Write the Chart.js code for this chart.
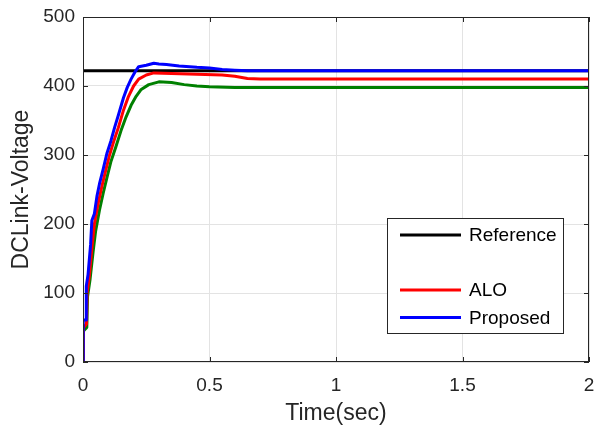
<!DOCTYPE html>
<html>
<head>
<meta charset="utf-8">
<script src="https://cdn.jsdelivr.net/npm/chart.js@4/dist/chart.umd.min.js"></script>
<style>
  html, body { margin: 0; padding: 0; background: #fff; }
  #wrap { width: 597px; height: 432px; position: relative; }
</style>
</head>
<body>
<div id="wrap"><canvas id="myChart"></canvas></div>
<script>
// values
const xTicks = [0, 0.5, 1, 1.5, 2];
const yTicks = [0, 100, 200, 300, 400, 500];

const seriesLabels = ['Reference', '', 'ALO', 'Proposed'];

const timeReference = [0, 2];
const voltReference = [422, 422];

const timeGreen = [0, 0.002, 0.015, 0.018, 0.028, 0.04, 0.05, 0.065, 0.08, 0.095, 0.11, 0.13, 0.15, 0.17, 0.19, 0.21, 0.23, 0.26, 0.3, 0.35, 0.4, 0.45, 0.5, 0.6, 2];
const voltGreen = [0, 45, 50, 95, 120, 160, 190, 220, 245, 268, 290, 312, 335, 355, 372, 385, 395, 402, 406, 405, 402, 400, 399, 398, 398];

const timeALO = [0, 0.002, 0.014, 0.016, 0.025, 0.035, 0.045, 0.06, 0.075, 0.09, 0.105, 0.12, 0.14, 0.16, 0.18, 0.2, 0.22, 0.25, 0.28, 0.35, 0.45, 0.55, 0.6, 0.65, 0.7, 2];
const voltALO = [0, 50, 55, 100, 125, 165, 200, 230, 255, 278, 300, 318, 340, 365, 385, 400, 410, 416, 419, 418, 417, 416, 414, 411, 410, 410];

const timeProposed = [0, 0.001, 0.012, 0.013, 0.02, 0.03, 0.035, 0.045, 0.055, 0.065, 0.08, 0.095, 0.11, 0.125, 0.14, 0.16, 0.175, 0.19, 0.205, 0.22, 0.25, 0.28, 0.3, 0.33, 0.38, 0.45, 0.5, 0.55, 0.6, 0.65, 2];
const voltProposed = [0, 61, 61, 110, 127, 170, 205, 215, 240, 258, 280, 303, 320, 340, 358, 383, 398, 410, 420, 428, 430, 433, 432, 431, 429, 427, 426, 424, 423, 422, 422];

const textColor = '#262626';
const fontFamily = '"Liberation Sans", Arial, Helvetica, sans-serif';

function toPoints(xs, ys) {
    return xs.map((x, i) => ({ x: x, y: ys[i] }));
}

// box, inward ticks and the legend drawn inside the axes like MATLAB does
const matlabFrame = {
    id: 'matlabFrame',
    afterDatasetsDraw(chart) {
        const { ctx, chartArea: a, scales } = chart;
        ctx.save();
        ctx.strokeStyle = textColor;
        ctx.lineWidth = 1;
        ctx.strokeRect(a.left + 0.5, a.top + 0.5, a.right - a.left - 1, a.bottom - a.top - 1);

        const tl = 5;
        ctx.beginPath();
        yTicks.forEach(v => {
            const y = Math.round(scales.y.getPixelForValue(v)) + 0.5;
            ctx.moveTo(a.left, y); ctx.lineTo(a.left + tl, y);
            ctx.moveTo(a.right, y); ctx.lineTo(a.right - tl, y);
        });
        xTicks.forEach(v => {
            const x = Math.round(scales.x.getPixelForValue(v)) + 0.5;
            ctx.moveTo(x, a.bottom); ctx.lineTo(x, a.bottom - tl);
            ctx.moveTo(x, a.top); ctx.lineTo(x, a.top + tl);
        });
        ctx.stroke();

        // legend
        const box = { left: 387.5, top: 218.5, width: 176, height: 115 };
        ctx.fillStyle = '#fff';
        ctx.fillRect(box.left, box.top, box.width, box.height);
        ctx.strokeStyle = textColor;
        ctx.strokeRect(box.left, box.top, box.width, box.height);

        const rowY0 = 235;
        const rowH = 27.5;
        ctx.font = '19px ' + fontFamily;
        ctx.textBaseline = 'middle';
        ctx.textAlign = 'left';
        chart.data.datasets.forEach((ds, i) => {
            if (!ds.label) return;
            const y = rowY0 + i * rowH;
            ctx.strokeStyle = ds.borderColor;
            ctx.lineWidth = 3;
            ctx.beginPath();
            ctx.moveTo(400, y);
            ctx.lineTo(461, y);
            ctx.stroke();
            ctx.fillStyle = '#000';
            ctx.fillText(ds.label, 469, y + 1);
        });
        ctx.restore();
    }
};

new Chart(document.getElementById('myChart'), {
    type: 'line',
    data: {
        datasets: [
            { label: seriesLabels[0], data: toPoints(timeReference, voltReference), borderColor: '#000000', borderWidth: 3, order: 3 },
            { label: seriesLabels[1], data: toPoints(timeGreen, voltGreen), borderColor: '#008000', borderWidth: 3, order: 2 },
            { label: seriesLabels[2], data: toPoints(timeALO, voltALO), borderColor: '#ff0000', borderWidth: 3, order: 1 },
            { label: seriesLabels[3], data: toPoints(timeProposed, voltProposed), borderColor: '#0000ff', borderWidth: 3, order: 0 }
        ]
    },
    options: {
        responsive: true,
        maintainAspectRatio: false,
        animation: false,
        layout: { padding: { top: 17, right: 8, left: 0, bottom: 0 } },
        elements: {
            point: { radius: 0 },
            line: { tension: 0, borderJoinStyle: 'round' }
        },
        plugins: {
            legend: { display: false },
            tooltip: { enabled: false }
        },
        scales: {
            x: {
                type: 'linear',
                min: 0,
                max: 2,
                afterBuildTicks: scale => { scale.ticks = xTicks.map(v => ({ value: v })); },
                afterFit: scale => {
                    scale.height = 70;
                    scale.paddingLeft = 0;
                    scale.paddingRight = 0;
                },
                ticks: {
                    padding: 12,
                    color: textColor,
                    font: { size: 19, family: fontFamily },
                    callback: v => String(v)
                },
                grid: { color: '#e3e3e3', drawTicks: false },
                border: { display: false },
                title: {
                    display: true,
                    text: 'Time(sec)',
                    color: textColor,
                    font: { size: 23, family: fontFamily },
                    padding: { top: 0, bottom: 5 }
                }
            },
            y: {
                min: 0,
                max: 500,
                afterBuildTicks: scale => { scale.ticks = yTicks.map(v => ({ value: v })); },
                afterFit: scale => {
                    scale.width = 83;
                    scale.paddingTop = 0;
                    scale.paddingBottom = 0;
                },
                ticks: {
                    padding: 8,
                    color: textColor,
                    font: { size: 19, family: fontFamily },
                    callback: v => String(v)
                },
                grid: { color: '#e3e3e3', drawTicks: false },
                border: { display: false },
                title: {
                    display: true,
                    text: 'DCLink-Voltage',
                    color: textColor,
                    font: { size: 23, family: fontFamily },
                    padding: { top: 8, bottom: 0 }
                }
            }
        }
    },
    plugins: [matlabFrame]
});
</script>
</body>
</html>
